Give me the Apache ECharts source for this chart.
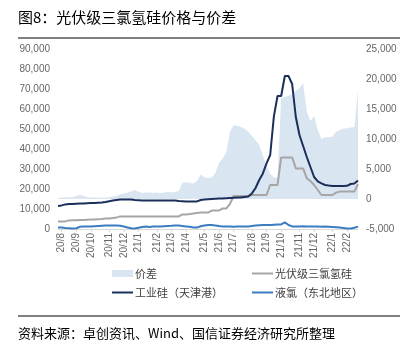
<!DOCTYPE html>
<html><head><meta charset="utf-8">
<script src="https://cdn.jsdelivr.net/npm/echarts@6/dist/echarts.min.js"></script>
<style>html,body{margin:0;padding:0;background:#fff}#c{width:407px;height:351px}</style>
</head><body><div id="c"></div>
<script>
const dates = [
'2020-07-31','2020-08-07','2020-08-14','2020-08-21','2020-08-28','2020-09-04','2020-09-11','2020-09-18','2020-09-25',
'2020-10-02','2020-10-09','2020-10-16','2020-10-23','2020-10-30','2020-11-06','2020-11-13','2020-11-20','2020-11-27',
'2020-12-04','2020-12-11','2020-12-18','2020-12-25',
'2021-01-01','2021-01-08','2021-01-15','2021-01-22','2021-01-29','2021-02-05','2021-02-12','2021-02-19','2021-02-26',
'2021-03-05','2021-03-12','2021-03-19','2021-03-26','2021-04-02','2021-04-09','2021-04-16','2021-04-23','2021-04-30',
'2021-05-07','2021-05-14','2021-05-21','2021-05-28','2021-06-04','2021-06-11','2021-06-18','2021-06-25',
'2021-07-02','2021-07-09','2021-07-16','2021-07-23','2021-07-30','2021-08-06','2021-08-13','2021-08-20','2021-08-27',
'2021-09-03','2021-09-10','2021-09-17','2021-09-24','2021-10-01','2021-10-08','2021-10-15','2021-10-22','2021-10-29',
'2021-11-05','2021-11-12','2021-11-19','2021-11-26','2021-12-03','2021-12-10','2021-12-17','2021-12-24','2021-12-31',
'2022-01-07','2022-01-14','2022-01-21','2022-01-28','2022-02-04','2022-02-11','2022-02-18','2022-02-25'];

const spread = [200,200,300,250,300,500,700,500,300,250,
250,200,250,200,300,400,500,800,900,1100,
1300,1500,1200,1000,1100,1100,1000,1100,1000,1100,
1200,1100,1200,1300,2700,2800,2700,2600,3000,4100,
3600,3500,3600,4300,6000,6700,7800,11200,12300,12200,
12000,11700,11200,10500,9800,9000,7300,5500,4200,3600,
3500,16800,17000,17200,17500,18000,18500,19300,14500,13000,
13800,11500,10000,10300,10300,10400,11200,11500,11700,11800,
11900,12000,18000];

const trichlorosilane = [3800,3800,3800,4300,4400,4400,4500,4500,4600,4700,
4800,4900,5000,5200,5200,5500,5800,6300,6300,6300,
6300,6300,6300,6300,6300,6300,6300,6300,6300,6300,
6300,6300,6300,6300,7300,7300,7500,7800,8000,8200,
8200,8200,9200,9200,9200,10300,10300,12500,16500,16500,
16500,16500,16500,17000,17000,17000,17000,17000,22000,22000,
22000,35800,35800,35800,35800,30300,30300,30300,25300,24000,
22000,19500,17000,17000,17000,17000,18200,18700,18700,18700,
18700,18700,22500];

const silicon = [11500,11800,12300,12500,12500,12600,12700,12800,12900,13000,
13000,13100,13200,13500,13900,14200,14500,14800,14800,14800,
14700,14500,14400,14300,14200,14200,14200,14300,14300,14200,
14200,14300,14200,14000,13900,13800,13700,13700,13800,14500,
14800,14900,15000,15100,15200,15300,15400,15500,15600,15700,
15800,16000,16200,17800,20500,24500,27800,32800,37000,56200,
66500,66500,76500,76500,72500,56000,47000,41500,36000,31000,
26000,23800,22800,22000,21700,21500,21500,21500,21500,21600,
22500,22800,24300];

const chlorine = [800,700,500,400,300,400,1100,1200,1200,1300,
1400,1500,1600,1700,1800,1800,1800,1600,1200,800,
400,200,600,1000,1200,1000,1200,1300,1200,1400,
1500,1600,1800,1700,1500,1300,1100,800,700,1400,
1800,2000,2000,1800,1500,1300,1200,1200,1100,1200,
1300,1200,1300,1500,1700,1900,2000,2000,2000,2100,
2200,2300,3300,2000,1300,1200,1300,1400,1300,1200,
1300,1200,1100,1200,1100,1000,900,700,500,300,
200,600,1200];

const leftAxis = {min: 0, max: 90000, interval: 10000};
const rightAxis = {min: -5000, max: 25000, interval: 5000};
const names = ['价差', '光伏级三氯氢硅', '工业硅（天津港）', '液氯（东北地区）'];
const titleText = '图8：光伏级三氯氢硅价格与价差';
const sourceText = '资料来源：卓创资讯、Wind、国信证券经济研究所整理';

const colors = {spread: '#dae5f2', tcs: '#a6a6a6', si: '#1a2f5a', cl: '#3a7dc0'};
const cjk = '"Noto Sans CJK SC", sans-serif';
const num = '"Liberation Sans", Arial, sans-serif';

const monthStart = (idx) => idx > 0 && dates[idx].slice(0, 7) !== dates[idx - 1].slice(0, 7);

const chart = echarts.init(document.getElementById('c'), null, {renderer: 'canvas'});
const legendBase = {orient: 'horizontal', itemWidth: 21, itemGap: 0,
  textStyle: {fontFamily: cjk, fontSize: 11, color: '#404040', padding: [0, 0, 0, -3]}, padding: 0};
chart.setOption({
  animation: false,
  backgroundColor: '#fff',
  grid: {left: 58, right: 49, top: 49, bottom: 122, containLabel: false},
  xAxis: {
    type: 'category', data: dates, boundaryGap: false,
    axisLine: {show: true, lineStyle: {color: '#d9d9d9', width: 1}},
    axisTick: {show: true, length: 3, interval: (i) => monthStart(i), lineStyle: {color: '#d9d9d9'}},
    axisLabel: {interval: (i) => monthStart(i), rotate: 90, margin: 4, fontSize: 10, color: '#666', fontFamily: num,
      formatter: (v) => v.slice(2, 4) + '/' + parseInt(v.slice(5, 7), 10)},
    splitLine: {show: false}
  },
  yAxis: [
    {type: 'value', min: leftAxis.min, max: leftAxis.max, interval: leftAxis.interval, position: 'left',
     axisLine: {show: false}, axisTick: {show: false}, splitLine: {show: false},
     axisLabel: {fontSize: 10, color: '#666', margin: 8, fontFamily: num}},
    {type: 'value', min: rightAxis.min, max: rightAxis.max, interval: rightAxis.interval, position: 'right',
     axisLine: {show: false}, axisTick: {show: false}, splitLine: {show: false},
     axisLabel: {fontSize: 10, color: '#666', margin: 8, fontFamily: num}}
  ],
  legend: [
    Object.assign({}, legendBase, {left: 112, top: 268, itemHeight: 7, data: [{name: names[0], icon: 'rect'}]}),
    Object.assign({}, legendBase, {left: 252, top: 268, itemHeight: 2, data: [{name: names[1], icon: 'rect'}]}),
    Object.assign({}, legendBase, {left: 112, top: 287, itemHeight: 2, data: [{name: names[2], icon: 'rect'}]}),
    Object.assign({}, legendBase, {left: 252, top: 287, itemHeight: 2, data: [{name: names[3], icon: 'rect'}]})
  ],
  series: [
    {name: names[0], type: 'line', yAxisIndex: 1, data: spread, symbol: 'none', z: 1,
     lineStyle: {width: 0, color: colors.spread}, itemStyle: {color: colors.spread},
     areaStyle: {color: colors.spread, opacity: 1}},
    {name: names[1], type: 'line', yAxisIndex: 0, data: trichlorosilane, symbol: 'none', z: 2,
     lineStyle: {width: 2, color: colors.tcs}, itemStyle: {color: colors.tcs}},
    {name: names[2], type: 'line', yAxisIndex: 0, data: silicon, symbol: 'none', z: 3,
     lineStyle: {width: 2, color: colors.si}, itemStyle: {color: colors.si}},
    {name: names[3], type: 'line', yAxisIndex: 0, data: chlorine, symbol: 'none', z: 4,
     lineStyle: {width: 2, color: colors.cl}, itemStyle: {color: colors.cl}}
  ],
  graphic: [
    {type: 'text', left: 18, top: 10, style: {text: titleText, font: '15px ' + cjk, fill: '#000'}},
    {type: 'line', shape: {x1: 18, y1: 38, x2: 400, y2: 38}, style: {stroke: '#000', lineWidth: 1}},
    {type: 'line', shape: {x1: 18, y1: 316, x2: 400, y2: 316}, style: {stroke: '#000', lineWidth: 1}},
    {type: 'text', left: 18, top: 327, style: {text: sourceText, font: '13px ' + cjk, fill: '#000'}}
  ]
});
</script>
</body></html>
